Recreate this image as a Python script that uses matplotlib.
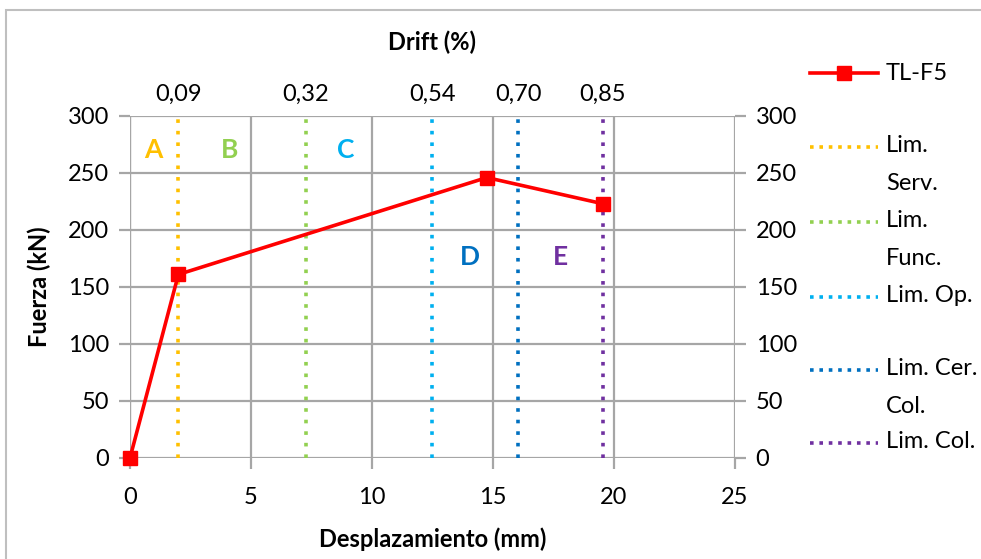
import matplotlib
matplotlib.use("Agg")
import matplotlib.pyplot as plt
from matplotlib.lines import Line2D
from matplotlib.patches import Rectangle

plt.rcParams['font.family'] = ['Lato', 'DejaVu Sans']

# Data
disp = [0.0, 2.0, 14.75, 19.55]
force = [0.0, 161.0, 246.0, 223.0]
series_name = "TL-F5"

limit_x = [2.0, 7.27, 12.5, 16.05, 19.55]
limit_drift = ["0,09", "0,32", "0,54", "0,70", "0,85"]
limit_names = ["Lim.\nServ.", "Lim.\nFunc.", "Lim. Op.", "Lim. Cer.\nCol.", "Lim. Col."]
limit_colors = ["#FFC000", "#92D050", "#00B0F0", "#0070C0", "#7030A0"]

zone_labels = ["A", "B", "C", "D", "E"]
zone_x = [0.95, 4.1, 8.9, 14.05, 17.8]
zone_y = [270, 270, 270, 176, 176]

xticks = [0, 5, 10, 15, 20, 25]
yticks = [0, 50, 100, 150, 200, 250, 300]

fig = plt.figure(figsize=(9.81, 5.59), dpi=100)
ax = fig.add_axes([0.1325, 0.1807, 0.749 - 0.1325, 0.7925 - 0.1807])

grid_c = "#A6A6A6"
ax.set_xlim(0, 25)
ax.set_ylim(0, 300)
ax.set_xticks(xticks)
ax.set_yticks(yticks)
ax.grid(True, color=grid_c, linewidth=1.6)
ax.set_axisbelow(True)
for s in ax.spines.values():
    s.set_visible(False)
ax.tick_params(axis='x', length=8, width=1.6, color=grid_c, labelsize=17, pad=13)
ax.tick_params(axis='y', length=8, width=1.6, color=grid_c, labelsize=17, pad=7,
               right=True, labelright=True)
ax.axvline(0, color=grid_c, linewidth=1.6, zorder=0.5)

for x, c in zip(limit_x, limit_colors):
    ax.plot([x, x], [0, 300], linestyle=(0, (1, 2.2)), color=c, linewidth=2.6, zorder=2)

ax.plot(disp, force, color="#FF0000", linewidth=2.6, marker='s', markersize=10, zorder=4,
        clip_on=False)

for lab, x, y, c in zip(zone_labels, zone_x, zone_y, limit_colors):
    ax.text(x, y, lab, color=c, fontsize=19, fontweight='bold', ha='center', va='center')

ax.set_xlabel("Desplazamiento (mm)", fontsize=17, fontweight='bold', labelpad=14)
ax.set_ylabel("Fuerza (kN)", fontsize=17, fontweight='bold', labelpad=12)

top = ax.secondary_xaxis('top')
top.set_xticks(limit_x)
top.set_xticklabels(limit_drift)
top.tick_params(length=0, labelsize=17, pad=8)
for s in top.spines.values():
    s.set_visible(False)
top.set_xlabel("Drift (%)", fontsize=17, fontweight='bold', labelpad=24)

# Legend (manual, figure coords)
W, H = 981.0, 559.0
def fx(p):
    return p / W
def fy(p):
    return 1 - p / H

lx0, lx1, tx = 810, 878, 886
fig.add_artist(Line2D([fx(lx0), fx(lx1)], [fy(73), fy(73)], color="#FF0000", linewidth=2.6))
fig.add_artist(Line2D([fx((lx0 + lx1) / 2)], [fy(73)], color="#FF0000", marker='s',
                      markersize=10, linestyle='None'))
fig.text(fx(tx), fy(73), series_name, fontsize=17, va='center', ha='left')

ys = [147, 222, 297, 370, 443]
for y, name, c in zip(ys, limit_names, limit_colors):
    fig.add_artist(Line2D([fx(lx0), fx(lx1)], [fy(y), fy(y)], color=c,
                          linestyle=(0, (1, 1.6)), linewidth=2.6))
    fig.text(fx(tx), fy(y - 12), name, fontsize=17, va='top', ha='left',
             linespacing=2.0)

# figure frame
fig.add_artist(Rectangle((fx(6), -0.1), 1.2, fy(10) + 0.1, transform=fig.transFigure,
                         fill=False, edgecolor="#BFBFBF", linewidth=1.5))

fig.savefig("out.png", dpi=100)
